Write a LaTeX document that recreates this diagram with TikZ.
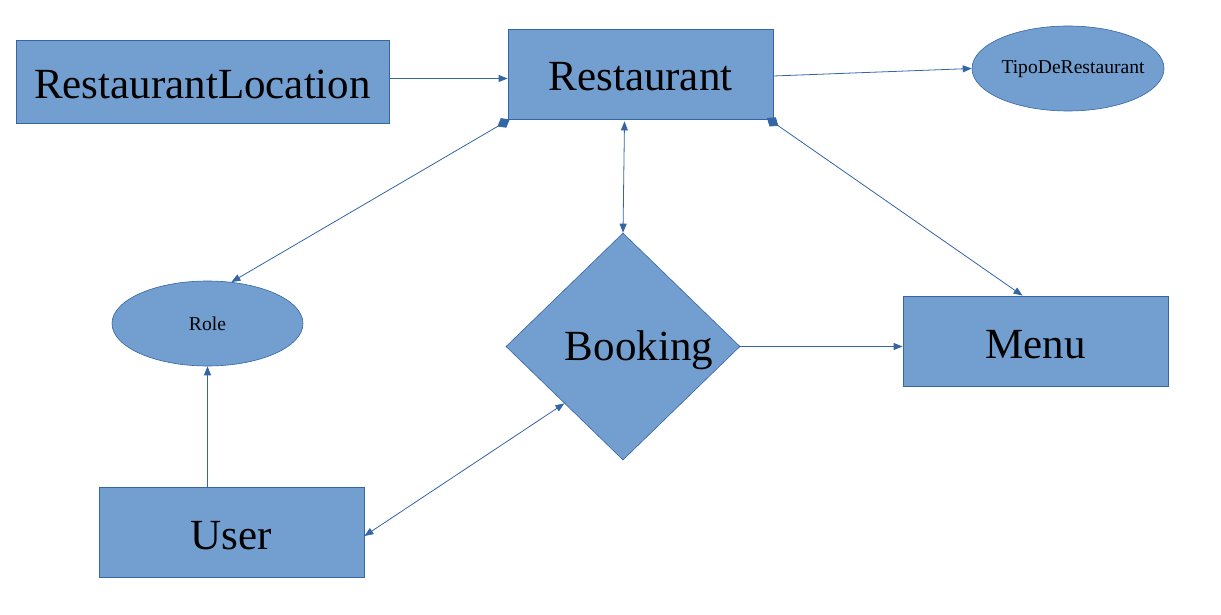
\documentclass[tikz,border=0pt]{standalone}
\usepackage{fontspec}
\setmainfont{Liberation Serif}
\usepackage{xcolor}
\usepackage{tikz}
\usetikzlibrary{positioning, arrows.meta, shapes}

\definecolor{boxfill}{HTML}{729FCF}
\definecolor{boxline}{HTML}{3465A4}

\begin{document}
\begin{tikzpicture}[x=1pt, y=-1pt,
    entity/.style={draw=boxline, fill=boxfill, line width=0.8pt, inner sep=0pt,
        minimum width=265pt, minimum height=90pt, text height=34pt, text depth=0pt,
        font=\fontsize{43}{50}\selectfont},
    attr/.style={ellipse, draw=boxline, fill=boxfill, line width=0.6pt, inner sep=0pt,
        minimum width=192pt, minimum height=85pt, font=\fontsize{19.6}{23}\selectfont},
    rel/.style={diamond, draw=boxline, fill=boxfill, line width=0.6pt, inner sep=0pt,
        minimum width=234pt, minimum height=227pt},
    link/.style={draw=boxline, line width=0.8pt, -{Triangle[length=9pt,width=7pt]}},
    both/.style={link, {Triangle[length=9pt,width=7pt]}-{Triangle[length=9pt,width=7pt]}},
    own/.style={link, {Diamond[length=14pt,width=11pt]}-{Triangle[length=9pt,width=7pt]}}]
    \useasboundingbox (0,0) rectangle (1221,615);

    % Entities
    \node[entity, minimum width=373pt, minimum height=83pt] (restloc) at (202.5,81.5) {RestaurantLocation};
    \node[entity] (restaurant) at (640.5,74) {Restaurant};
    \node[entity] (menu) at (1035.5,341) {Menu};
    \node[entity] (user) at (231.5,532) {User};

    % Attributes
    \node[attr, label={[xshift=5pt, yshift=-1pt, font=\fontsize{19.6}{23}\selectfont]center:TipoDeRestaurant}] (tipo) at (1068,68.5) {};
    \node[attr, minimum width=191pt] (role) at (207.5,323.5) {Role};

    % Relationship
    \node[rel, label={[xshift=16pt, yshift=-4pt, font=\fontsize{43}{50}\selectfont]center:Booking}] (booking) at (623,346.5) {};

    % Links
    \draw[link] ([yshift=3pt]restloc.east) -- ([yshift=3pt]restloc.east -| restaurant.west);
    \draw[link] ([yshift=-2pt]restaurant.east) -- (tipo.west);
    \draw[own] ([shift={(2pt,0pt)}]restaurant.south west) -- (role.60);
    \draw[both] ([shift={(-16pt,-2pt)}]restaurant.south) -- (booking.north);
    \draw[own] ([shift={(-6.5pt,1.5pt)}]restaurant.south east) -- ([xshift=-13pt]menu.north);
    \draw[link] (booking.east) -- (booking.east -| menu.west);
    \draw[link] (user.north -| role.south) -- (role.south);
    \draw[both] ([yshift=-4pt]user.east) -- (booking.south west);
\end{tikzpicture}
\end{document}
